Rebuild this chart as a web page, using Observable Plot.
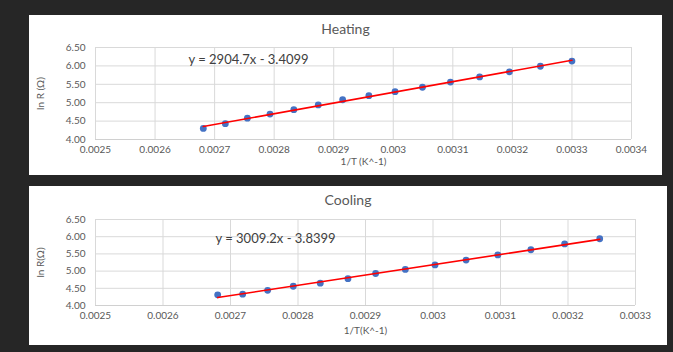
<!DOCTYPE html>
<html><head><meta charset="utf-8">
<script src="https://cdn.jsdelivr.net/npm/d3@7"></script>
<script src="https://cdn.jsdelivr.net/npm/@observablehq/plot@0.6"></script>
<style>
body{margin:0;background:#262626;width:673px;height:352px;overflow:hidden;font-family:Lato,sans-serif;position:relative}
.panel{position:absolute;background:#fff;overflow:hidden}
.panel svg{position:absolute;left:0;top:0}
.title{position:absolute;left:0;right:0;text-align:center;color:#595959;font-size:14px;font-family:Lato,sans-serif}
</style></head><body>
<div id="p1" class="panel" style="left:29px;top:15px;width:633px;height:160px"><div class="title" style="top:5px">Heating</div></div>
<div id="p2" class="panel" style="left:29px;top:186px;width:638px;height:159px"><div class="title" style="top:5px">Cooling</div></div>
<script>
// Heating series
const heatX = [0.002681, 0.002718, 0.002755, 0.002793, 0.002833, 0.002874, 0.002915, 0.002959, 0.003003, 0.003049, 0.003096, 0.003145, 0.003195, 0.003247, 0.003300];
const heatY = [4.30, 4.43, 4.58, 4.69, 4.81, 4.94, 5.08, 5.19, 5.30, 5.42, 5.56, 5.70, 5.84, 5.99, 6.13];
// Cooling series
const coolX = [0.002681, 0.002718, 0.002755, 0.002793, 0.002833, 0.002874, 0.002915, 0.002959, 0.003003, 0.003049, 0.003096, 0.003145, 0.003195, 0.003247];
const coolY = [4.31, 4.33, 4.44, 4.56, 4.65, 4.78, 4.93, 5.05, 5.18, 5.32, 5.47, 5.62, 5.79, 5.94];
// Ticks
const yTicks = [4.0, 4.5, 5.0, 5.5, 6.0, 6.5];
const heatXTicks = [0.0025, 0.0026, 0.0027, 0.0028, 0.0029, 0.0030, 0.0031, 0.0032, 0.0033, 0.0034];
const coolXTicks = [0.0025, 0.0026, 0.0027, 0.0028, 0.0029, 0.0030, 0.0031, 0.0032, 0.0033];
// Labels
const heatEq = "y = 2904.7x - 3.4099";
const coolEq = "y = 3009.2x - 3.8399";
const heatXLabel = "1/T (K^-1)";
const coolXLabel = "1/T(K^-1)";
const heatYLabel = "ln R (Ω)";
const coolYLabel = "ln R(Ω)";

const fmtX = v => String(+v.toFixed(4));
const fmtY = v => v.toFixed(2);
const txt = "#595959";

function chart({xs, ys, xTicks, eq, xLabel, yLabel, width, height, margins, eqDx, eqDy, xLabelDy}) {
  const data = xs.map((x, i) => ({x, y: ys[i]}));
  return Plot.plot({
    width, height,
    marginLeft: margins[0], marginRight: margins[1], marginTop: margins[2], marginBottom: margins[3],
    style: {fontFamily: "Lato, sans-serif", fontSize: "10px", color: txt, background: "transparent", overflow: "visible"},
    x: {domain: [xTicks[0], xTicks[xTicks.length - 1]]},
    y: {domain: [yTicks[0], yTicks[yTicks.length - 1]]},
    marks: [
      Plot.gridX(xTicks, {stroke: "#d9d9d9", strokeOpacity: 1}),
      Plot.gridY(yTicks, {stroke: "#d9d9d9", strokeOpacity: 1}),
      Plot.ruleY([yTicks[0]], {stroke: "#d0d0d0"}),
      Plot.axisX(xTicks, {tickSize: 0, tickPadding: 6, tickFormat: fmtX, label: null, fill: txt, fontSize: 10}),
      Plot.axisY(yTicks, {tickSize: 0, tickPadding: 10, tickFormat: fmtY, label: null, fill: txt, fontSize: 10}),
      Plot.text([xLabel], {frameAnchor: "bottom", dy: xLabelDy, fill: txt, fontSize: 10}),
      Plot.text([yLabel], {frameAnchor: "left", dx: -55, rotate: -90, textAnchor: "middle", lineAnchor: "middle", fill: txt, fontSize: 10}),
      Plot.dot(data, {x: "x", y: "y", r: 3.4, fill: "#4472c4", stroke: null}),
      Plot.linearRegressionY(data, {x: "x", y: "y", stroke: "#ff0000", strokeWidth: 1.6, ci: 0}),
      Plot.text([eq], {frameAnchor: "top-left", dx: eqDx, dy: eqDy, textAnchor: "start", lineAnchor: "middle", fill: "#404040", fontSize: 13})
    ]
  });
}

document.getElementById("p1").appendChild(chart({
  xs: heatX, ys: heatY, xTicks: heatXTicks, eq: heatEq, xLabel: heatXLabel, yLabel: heatYLabel,
  width: 633, height: 160, margins: [66, 31, 32, 36], eqDx: 93, eqDy: 12, xLabelDy: 25
}));
document.getElementById("p2").appendChild(chart({
  xs: coolX, ys: coolY, xTicks: coolXTicks, eq: coolEq, xLabel: coolXLabel, yLabel: coolYLabel,
  width: 638, height: 159, margins: [66, 32, 33, 40], eqDx: 120, eqDy: 19, xLabelDy: 28
}));
</script>
</body></html>
